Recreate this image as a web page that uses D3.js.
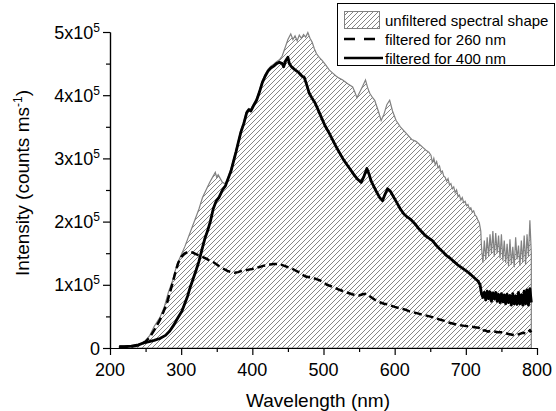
<!DOCTYPE html>
<html>
<head>
<meta charset="utf-8">
<script src="https://cdn.jsdelivr.net/npm/d3@7"></script>
<style>
  body { margin: 0; background: #fff; }
  svg { font-family: "Liberation Sans", Arial, sans-serif; }
</style>
</head>
<body>
<div id="chart-container"></div>
<script>
	var width = 556;
	var height = 411;

	// intensity in units of 1e5 counts per ms, wavelength in nm
	var unfiltered = [
		[213,0.02],[230,0.03],[240,0.05],[250,0.12],[256,0.2],[262,0.34],[270,0.48],[276,0.64],[282,0.88],[288,1.07],[294,1.32],[300,1.47],
		[305,1.6],[310,1.75],[315,1.9],[320,2.05],[325,2.2],[330,2.38],[335,2.5],[340,2.62],[345,2.72],[348,2.78],[350,2.7],[352,2.74],
		[355,2.68],[358,2.62],[362,2.6],[366,2.71],[370,2.83],[373,2.96],[377,3.13],[380,3.27],[384,3.45],[388,3.58],[392,3.75],[395,3.79],
		[398,3.78],[401,3.85],[406,3.95],[410,4.08],[414,4.23],[418,4.33],[422,4.41],[426,4.46],[430,4.49],[434,4.53],[438,4.56],[442,4.62],
		[446,4.75],[450,4.88],[454,4.97],[457,4.88],[460,4.94],[463,4.86],[466,4.95],[469,4.9],[472,4.96],[475,4.92],[478,4.99],[481,4.9],
		[484,4.84],[487,4.74],[490,4.66],[494,4.6],[498,4.55],[503,4.48],[508,4.4],[513,4.35],[518,4.3],[522,4.27],[527,4.24],[534,4.18],
		[541,4.13],[544,4.05],[547,3.96],[551,4.05],[555,4.14],[559,4.24],[562,4.12],[565,4.03],[569,3.96],[572,3.92],[577,3.75],[581,3.6],
		[585,3.7],[589,3.85],[593,3.92],[597,3.75],[602,3.6],[608,3.5],[616,3.4],[624,3.3],[630,3.27],[635,3.22],[640,3.17],[644,3.13],
		[648,3.1],[651,3.05],[653,2.93],[655,3.0],[657,2.9],[659,2.95],[661,2.85],[663,2.88],[665,2.78],[667,2.8],[669,2.72],[671,2.7],
		[673,2.64],[675,2.68],[677,2.58],[679,2.6],[681,2.52],[683,2.55],[685,2.46],[687,2.5],[689,2.4],[691,2.42],[693,2.34],[695,2.38],
		[697,2.3],[699,2.32],[701,2.25],[703,2.27],[705,2.2],[707,2.22],[709,2.15],[711,2.17],[713,2.1],[715,2.08],[717,2.02],[719,1.98],
		[721,1.85],[722,1.6],[724,1.35],[726,1.7],[728,1.4],[730,1.75],[732,1.45],[734,1.8],[736,1.5],[738,1.85],[740,1.45],[742,1.82],
		[744,1.5],[746,1.78],[748,1.42],[750,1.8],[752,1.38],[754,1.7],[756,1.35],[758,1.65],[760,1.3],[762,1.72],[764,1.32],[766,1.6],
		[768,1.28],[770,1.75],[772,1.4],[774,1.62],[776,1.3],[778,1.7],[780,1.36],[782,1.78],[784,1.32],[786,1.8],[788,1.45],[790,2.02],[792,1.5]
	];

	var filtered260 = [
		[213,0.02],[225,0.02],[235,0.03],[242,0.05],[249,0.09],[256,0.17],[263,0.3],[270,0.44],[275,0.57],[280,0.71],[284,0.87],[288,1.03],
		[292,1.2],[296,1.35],[300,1.44],[304,1.49],[308,1.51],[312,1.52],[316,1.51],[320,1.49],[324,1.47],[328,1.46],[332,1.43],[336,1.41],
		[340,1.38],[345,1.36],[350,1.32],[355,1.28],[360,1.25],[365,1.22],[370,1.2],[375,1.19],[380,1.2],[385,1.22],[390,1.23],[395,1.24],
		[400,1.25],[405,1.27],[410,1.28],[415,1.3],[420,1.31],[425,1.32],[430,1.33],[435,1.33],[440,1.32],[445,1.3],[450,1.28],[455,1.26],
		[460,1.23],[465,1.2],[470,1.16],[475,1.13],[480,1.12],[485,1.11],[490,1.09],[495,1.07],[500,1.04],[505,1.0],[510,0.98],[515,0.96],
		[520,0.93],[525,0.91],[530,0.89],[535,0.87],[540,0.85],[545,0.84],[550,0.83],[555,0.85],[560,0.86],[565,0.82],[570,0.78],[575,0.74],
		[580,0.72],[585,0.7],[590,0.69],[595,0.67],[600,0.65],[607,0.63],[614,0.61],[621,0.58],[628,0.56],[635,0.54],[642,0.52],[649,0.5],
		[656,0.48],[663,0.45],[670,0.43],[677,0.4],[684,0.38],[691,0.36],[698,0.35],[705,0.34],[712,0.33],[718,0.32],[721,0.3],[723,0.27],
		[727,0.28],[731,0.26],[735,0.27],[740,0.26],[745,0.25],[750,0.25],[755,0.24],[760,0.22],[765,0.21],[770,0.2],[775,0.22],[780,0.24],
		[785,0.23],[790,0.28],[792,0.25]
	];

	var filtered400 = [
		[213,0.02],[220,0.02],[230,0.03],[240,0.05],[247,0.08],[255,0.1],[262,0.12],[270,0.15],[278,0.2],[284,0.27],[290,0.37],[295,0.47],
		[301,0.58],[305,0.7],[309,0.82],[313,0.97],[317,1.1],[321,1.23],[325,1.37],[329,1.55],[333,1.72],[337,1.85],[341,2.0],[345,2.2],
		[349,2.32],[353,2.38],[356,2.45],[358,2.5],[362,2.56],[366,2.68],[370,2.8],[373,2.93],[377,3.1],[380,3.24],[384,3.42],[388,3.55],
		[392,3.72],[395,3.77],[398,3.75],[401,3.82],[406,3.92],[410,4.05],[414,4.2],[418,4.3],[422,4.38],[426,4.43],[430,4.46],[434,4.5],
		[438,4.52],[442,4.5],[444,4.45],[447,4.55],[450,4.6],[452,4.5],[455,4.45],[460,4.4],[465,4.36],[470,4.3],[473,4.28],[476,4.18],
		[480,4.03],[484,3.95],[488,3.88],[492,3.78],[497,3.65],[502,3.52],[508,3.4],[513,3.29],[518,3.18],[523,3.08],[528,2.98],[533,2.9],
		[538,2.82],[543,2.74],[548,2.67],[553,2.62],[557,2.72],[561,2.84],[564,2.75],[567,2.64],[571,2.55],[575,2.46],[579,2.38],[583,2.33],
		[586,2.42],[590,2.52],[594,2.48],[598,2.4],[603,2.3],[608,2.2],[613,2.12],[618,2.07],[623,2.03],[628,1.97],[633,1.9],[638,1.84],
		[643,1.78],[648,1.74],[653,1.7],[658,1.63],[663,1.57],[668,1.52],[673,1.46],[678,1.42],[683,1.37],[688,1.32],[693,1.28],[698,1.24],
		[703,1.2],[708,1.15],[713,1.1],[717,1.06],[720,1.0],[722,0.86],[724,0.8],[726,0.88],[728,0.76],[730,0.9],[732,0.78],[734,0.89],
		[736,0.74],[738,0.87],[740,0.78],[742,0.88],[744,0.74],[746,0.85],[748,0.72],[750,0.86],[752,0.73],[754,0.84],[756,0.7],[758,0.85],
		[760,0.72],[762,0.83],[764,0.68],[766,0.86],[768,0.7],[770,0.82],[772,0.69],[774,0.88],[776,0.7],[778,0.84],[780,0.68],[782,0.9],
		[784,0.7],[786,0.92],[788,0.68],[790,0.94],[792,0.72]
	];

	var xTicks = [200, 300, 400, 500, 600, 700, 800];
	var xMinorTicks = [250, 350, 450, 550, 650, 750];
	var yTicks = [0, 1, 2, 3, 4, 5];
	var yMinorTicks = [0.5, 1.5, 2.5, 3.5, 4.5];
	var legendLabels = ["unfiltered spectral shape", "filtered for 260 nm", "filtered for 400 nm"];

	var svg = d3
	.select("#chart-container")
	.append("svg")
	.attr("width", width)
	.attr("height", height);

	// hatch pattern for the area
	svg.append("defs")
	.append("pattern")
	.attr("id", "hatch")
	.attr("patternUnits", "userSpaceOnUse")
	.attr("width", 5)
	.attr("height", 5)
	.append("path")
	.attr("d", "M-1,1 L1,-1 M0,5 L5,0 M4,6 L6,4")
	.attr("stroke", "#858585")
	.attr("stroke-width", 1);

	var xScale = d3.scaleLinear().domain([200, 800]).range([110, 537]);
	var yScale = d3.scaleLinear().domain([0, 5]).range([348, 32]);

	var area = d3.area()
	.x(function(d){ return xScale(d[0]) })
	.y0(yScale(0))
	.y1(function(d){ return yScale(d[1]) });

	var line = d3.line()
	.x(function(d){ return xScale(d[0]) })
	.y(function(d){ return yScale(d[1]) });

	svg.append("path")
	.datum(unfiltered)
	.attr("d", area)
	.attr("fill", "url(#hatch)")
	.attr("stroke", "#828282")
	.attr("stroke-width", 1.2);

	svg.append("path")
	.datum(filtered260)
	.attr("d", line)
	.attr("fill", "none")
	.attr("stroke", "#000")
	.attr("stroke-width", 2.5)
	.attr("stroke-dasharray", "8,4");

	svg.append("path")
	.datum(filtered400)
	.attr("d", line)
	.attr("fill", "none")
	.attr("stroke", "#000")
	.attr("stroke-width", 2.8)
	.attr("stroke-linejoin", "round");

	// axes
	var xAxis = d3.axisBottom(xScale).tickValues(xTicks).tickSize(7).tickSizeOuter(0).tickFormat("");
	var xMinor = d3.axisBottom(xScale).tickValues(xMinorTicks).tickSize(4).tickSizeOuter(0).tickFormat("");
	var yAxis = d3.axisLeft(yScale).tickValues(yTicks).tickSize(7).tickSizeOuter(0).tickFormat("");
	var yMinor = d3.axisLeft(yScale).tickValues(yMinorTicks).tickSize(4).tickSizeOuter(0).tickFormat("");

	svg.append("g").attr("transform", "translate(0," + yScale(0) + ")").call(xAxis);
	svg.append("g").attr("transform", "translate(0," + yScale(0) + ")").call(xMinor);
	svg.append("g").attr("transform", "translate(" + xScale(200) + ",0)").call(yAxis);
	svg.append("g").attr("transform", "translate(" + xScale(200) + ",0)").call(yMinor);

	svg.selectAll(".domain, .tick line").attr("stroke", "#000").attr("stroke-width", 1.2);

	// tick labels
	svg.append("g")
	.selectAll("text")
	.data(xTicks)
	.enter()
	.append("text")
	.attr("x", function(d){ return xScale(d) })
	.attr("y", 376)
	.attr("text-anchor", "middle")
	.attr("font-size", 18)
	.text(function(d){ return d });

	var yLabels = svg.append("g")
	.selectAll("text")
	.data(yTicks)
	.enter()
	.append("text")
	.attr("x", 100)
	.attr("y", function(d){ return yScale(d) + 6.5 })
	.attr("text-anchor", "end")
	.attr("font-size", 18);

	yLabels.append("tspan")
	.text(function(d){ return d === 0 ? "0" : d + "x10" });

	yLabels.filter(function(d){ return d !== 0 })
	.append("tspan")
	.attr("dy", -7)
	.attr("font-size", 12)
	.text("5");

	// axis titles
	svg.append("text")
	.attr("x", 318)
	.attr("y", 407)
	.attr("text-anchor", "middle")
	.attr("font-size", 19)
	.text("Wavelength (nm)");

	var yTitle = svg.append("text")
	.attr("transform", "translate(29,183) rotate(-90)")
	.attr("text-anchor", "middle")
	.attr("font-size", 19);
	yTitle.append("tspan").text("Intensity (counts ms");
	yTitle.append("tspan").attr("dy", -7).attr("font-size", 12).text("-1");
	yTitle.append("tspan").attr("dy", 7).text(")");

	// legend
	var legend = svg.append("g").attr("class", "legend");

	legend.append("rect")
	.attr("x", 337.5)
	.attr("y", 3.5)
	.attr("width", 217)
	.attr("height", 62)
	.attr("fill", "#fff")
	.attr("stroke", "#000")
	.attr("stroke-width", 1);

	legend.append("rect")
	.attr("x", 344.5)
	.attr("y", 11.5)
	.attr("width", 35)
	.attr("height", 17)
	.attr("fill", "url(#hatch)")
	.attr("stroke", "#828282");

	legend.append("line")
	.attr("x1", 344).attr("x2", 380)
	.attr("y1", 39).attr("y2", 39)
	.attr("stroke", "#000")
	.attr("stroke-width", 2.5)
	.attr("stroke-dasharray", "11,9");

	legend.append("line")
	.attr("x1", 344).attr("x2", 383)
	.attr("y1", 58).attr("y2", 58)
	.attr("stroke", "#000")
	.attr("stroke-width", 2.5);

	legend.selectAll(".lbl")
	.data(legendLabels)
	.enter()
	.append("text")
	.attr("class", "lbl")
	.attr("x", 385)
	.attr("y", function(d, i){ return 26 + i * 19 })
	.attr("font-size", 15)
	.text(function(d){ return d });
</script>
</body>
</html>
